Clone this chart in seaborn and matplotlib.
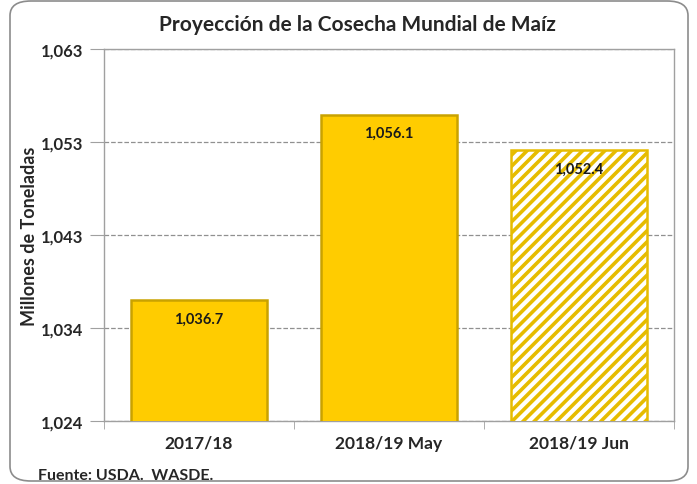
import numpy as np
import pandas as pd
import seaborn as sns
import matplotlib.pyplot as plt
from matplotlib.patches import FancyBboxPatch

# data
categories = ['2017/18', '2018/19 May', '2018/19 Jun']
values = [1036.7, 1056.1, 1052.4]
tick_labels = ['1,024', '1,034', '1,043', '1,053', '1,063']

sns.set_style('white')
plt.rcParams['font.family'] = ['Lato', 'DejaVu Sans']
plt.rcParams['hatch.color'] = '#FFC400'
plt.rcParams['hatch.linewidth'] = 2.6

gold = '#FFCC00'
df = pd.DataFrame({'cat': categories, 'val': values})

fig = plt.figure(figsize=(6.97, 4.85), dpi=100)
ax = fig.add_axes([104/697, 1 - 422/485, (674-104)/697, (422-50)/485])

sns.barplot(data=df, x='cat', y='val', color=gold, width=0.72, saturation=1,
            edgecolor='#C9A200', linewidth=1.8, ax=ax, zorder=3)

# last bar is hatched (projection)
p = ax.patches[2]
p.set_facecolor('white')
p.set_hatch('///')
p.set_edgecolor('#E6BC00')

ymin, ymax = 1024, 1063
ax.set_ylim(ymin, ymax)
ax.set_yticks(np.linspace(ymin, ymax, 5))
ax.set_yticklabels(tick_labels, fontsize=12, fontweight='bold')
for t in ax.get_xticklabels():
    t.set_fontsize(12.5)
    t.set_fontweight('bold')
ax.set_xlabel('')
ax.set_ylabel('Millones de Toneladas', fontsize=13, fontweight='bold')
ax.yaxis.set_label_coords(-0.115, 0.5)

ax.yaxis.grid(True, linestyle='--', color='#909090', linewidth=0.9, zorder=0)
ax.set_axisbelow(True)
for s in ax.spines.values():
    s.set_color('#A0A0A0')
    s.set_linewidth(1.0)
ax.tick_params(axis='y', length=10, color='#A0A0A0', direction='out', left=True, pad=5)
ax.tick_params(axis='x', length=0, pad=10)
ax.set_xticks([-0.5, 0.5, 1.5, 2.5], minor=True)
ax.tick_params(axis='x', which='minor', length=6, color='#A0A0A0', direction='out', bottom=True)

for i, v in enumerate(values):
    ax.text(i, v - 1.2, f'{v:,.1f}', ha='center', va='top',
            fontsize=10.5, fontweight='bold', color='#1a1a1a', zorder=5)

fig.text(357/697, 1 - 25/485, 'Proyección de la Cosecha Mundial de Maíz',
         ha='center', va='center', fontsize=15, fontweight='bold')
fig.text(38/697, 1 - 476/485, 'Fuente: USDA.  WASDE.', ha='left', va='center',
         fontsize=11.5, fontweight='bold')

frame = FancyBboxPatch((10/697, 3/485), 678/697, 480/485,
                       boxstyle='round,pad=0,rounding_size=0.03',
                       transform=fig.transFigure, fill=False,
                       edgecolor='#8C8C8C', linewidth=1.2)
fig.patches.append(frame)

fig.savefig('out.png', dpi=100)
